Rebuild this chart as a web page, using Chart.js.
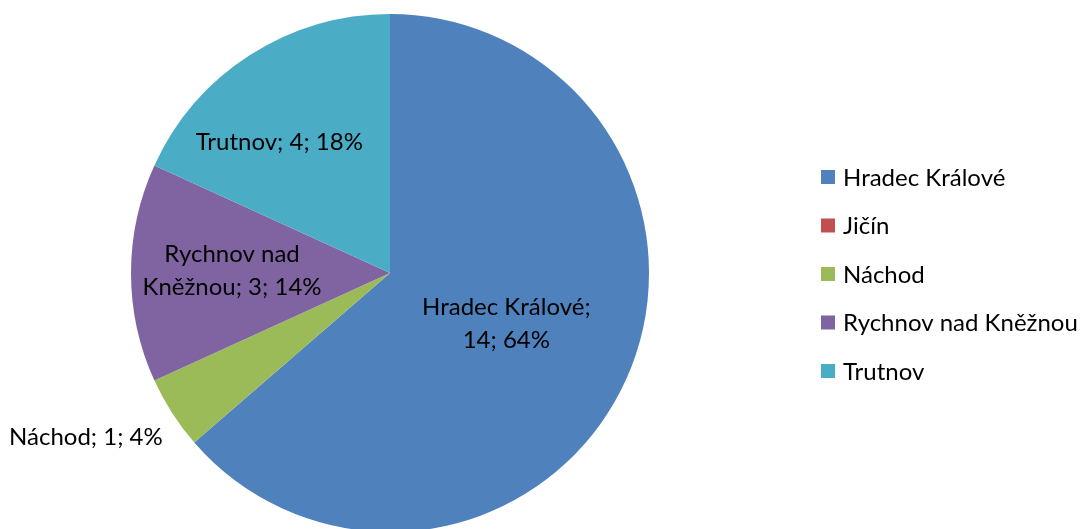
<!DOCTYPE html>
<html>
<head>
<meta charset="utf-8">
<script src="https://cdn.jsdelivr.net/npm/chart.js@4/dist/chart.umd.min.js"></script>
<style>
  html, body { margin: 0; padding: 0; background: #fff; overflow: hidden; }
  #wrap { position: relative; width: 1085px; height: 545px; }
</style>
</head>
<body>
<div id="wrap"><canvas id="pieChart"></canvas></div>
<script>
const okresy   = ["Hradec Králové", "Jičín", "Náchod", "Rychnov nad Kněžnou", "Trutnov"];
const pocty    = [14, 0, 1, 3, 4];
const procenta = [64, 0, 4, 14, 18];
const barvy    = ["#4F81BD", "#C0504D", "#9BBB59", "#8064A2", "#4BACC6"];

const FONT = "Lato, 'Liberation Sans', sans-serif";

// popisky: zlomek poloměru, posun úhlu (°), zalomení řádku
const umisteni = [
    { r: 0.49, a: -1,  lines: ["Hradec Králové;", "{v}; {p}%"] },
    null,
    { r: 1.335, a: 4.3, lines: ["Náchod; {v}; {p}%"] },
    { r: 0.61, a: 0.7, lines: ["Rychnov nad", "Kněžnou; {v}; {p}%"] },
    { r: 0.66, a: -7.6, lines: ["Trutnov; {v}; {p}%"] }
];

const popisky = {
    id: "popisky",
    afterDatasetsDraw(chart) {
        const ctx = chart.ctx;
        const meta = chart.getDatasetMeta(0);
        ctx.save();
        ctx.font = "24px " + FONT;
        ctx.fillStyle = "#000";
        ctx.textAlign = "center";
        ctx.textBaseline = "middle";
        meta.data.forEach((arc, i) => {
            const u = umisteni[i];
            if (!u || pocty[i] === 0) return;
            const p = arc.getProps(["x", "y", "startAngle", "endAngle", "outerRadius"], true);
            const mid = (p.startAngle + p.endAngle) / 2 + u.a * Math.PI / 180;
            const cx = p.x + Math.cos(mid) * p.outerRadius * u.r;
            const cy = p.y + Math.sin(mid) * p.outerRadius * u.r;
            const lh = 33;
            u.lines.forEach((t, k) => {
                const txt = t.replace("{v}", pocty[i]).replace("{p}", procenta[i]);
                ctx.fillText(txt, cx, cy + (k - (u.lines.length - 1) / 2) * lh);
            });
        });

        // legenda vpravo
        ctx.textAlign = "left";
        okresy.forEach((name, i) => {
            const y = 177 + i * 48.5;
            ctx.fillStyle = barvy[i];
            ctx.fillRect(821, y - 7, 14, 14);
            ctx.fillStyle = "#000";
            ctx.fillText(name, 843, y + 1);
        });
        ctx.restore();
    }
};

new Chart(document.getElementById("pieChart"), {
    type: "pie",
    data: {
        labels: okresy,
        datasets: [{
            data: pocty,
            backgroundColor: barvy,
            borderWidth: 0
        }]
    },
    options: {
        responsive: true,
        maintainAspectRatio: false,
        animation: false,
        layout: {
            padding: { left: 131, right: 436, top: 14, bottom: 13 }
        },
        plugins: {
            legend: { display: false },
            tooltip: { enabled: false }
        }
    },
    plugins: [popisky]
});
</script>
</body>
</html>
